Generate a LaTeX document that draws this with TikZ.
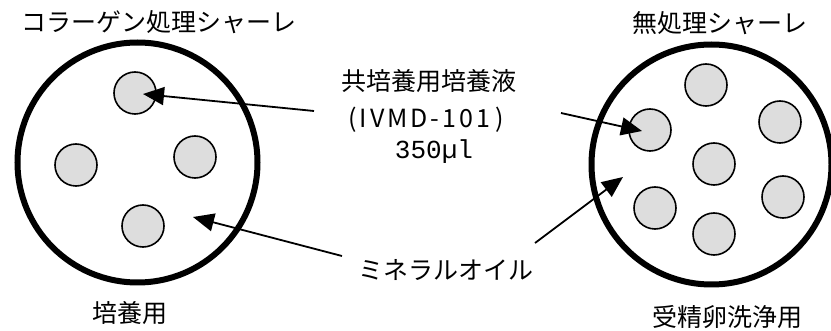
\documentclass[tikz,border=0pt]{standalone}
\usepackage{fontspec}
\setmainfont{Noto Sans CJK JP}
\newfontfamily\monof{Liberation Mono}
\newfontfamily\lspf[LetterSpace=12]{Noto Sans CJK JP}
\usetikzlibrary{arrows.meta}
\definecolor{wellgray}{HTML}{DDDDDD}
\tikzset{
  dish/.style={circle, draw=black, line width=6pt, minimum size=240pt, inner sep=0pt},
  well/.style={circle, draw=black, line width=1.6pt, fill=wellgray, minimum size=42pt, inner sep=0pt},
  lbl/.style={inner sep=0pt, anchor=center, font=\fontsize{25}{30}\selectfont},
  mono/.style={inner sep=0pt, anchor=center, font=\monof\fontsize{26}{30}\selectfont},
  ptr/.style={line width=1.8pt, -{Triangle[length=21pt,width=18pt]}}
}
\begin{document}
\begin{tikzpicture}[x=1pt,y=-1pt]
\useasboundingbox (0,0) rectangle (831,331);
% dishes
\node[dish] (dL) at (137.5,162.5) {};
\node[dish] (dR) at (711.5,164.5) {};
% wells left
\node[well] (wL1) at (135,93) {};
\node[well] (wL2) at (76,165) {};
\node[well] (wL3) at (195,157) {};
\node[well] (wL4) at (143,226) {};
% wells right
\node[well] (wR1) at (706,85) {};
\node[well] (wR2) at (650,130) {};
\node[well] (wR3) at (780,122) {};
\node[well] (wR4) at (714,164) {};
\node[well] (wR5) at (655,208) {};
\node[well] (wR6) at (783,197) {};
\node[well] (wR7) at (714,234) {};
% labels
\node[lbl] (tL) at (159,22) {コラーゲン処理シャーレ};
\node[lbl] (tR) at (720,23) {無処理シャーレ};
\node[lbl] (med) at (429,81) {共培養用培養液};
\node[lbl] (ivmd) at (426,120) {(\hspace{3pt}{\lspf IVMD-101}\hspace{5pt})};
\node[mono] (vol) at (434,152) {350µl};
\node[lbl] (oil) at (446,270) {ミネラルオイル};
\node[lbl] (bL) at (130,313) {培養用};
\node[lbl] (bR) at (727,317) {受精卵洗浄用};
% arrow endpoints
\coordinate (a1s) at (314,111);
\coordinate (a1t) at (143,94);
\coordinate (a2s) at (342,256);
\coordinate (a2t) at (193,217);
\coordinate (a3s) at (561,113);
\coordinate (a3t) at (642,131);
\coordinate (a4s) at (535,243);
\coordinate (a4t) at (623,177);
\draw[ptr] (a1s) -- (a1t);
\draw[ptr] (a2s) -- (a2t);
\draw[ptr] (a3s) -- (a3t);
\draw[ptr] (a4s) -- (a4t);
\end{tikzpicture}
\end{document}
